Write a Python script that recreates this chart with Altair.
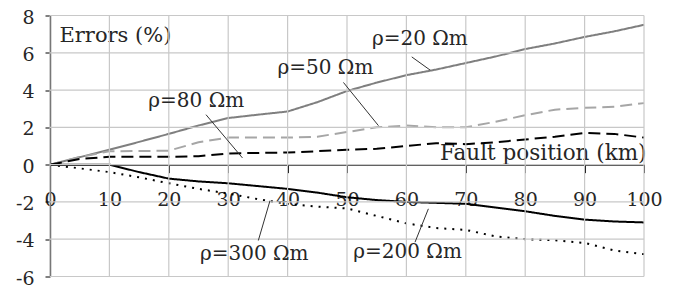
import altair as alt
import pandas as pd

# ---- data ----
positions = [0, 5, 10, 15, 20, 25, 30, 35, 40, 45, 50, 55, 60, 65, 70, 75, 80, 85, 90, 95, 100]
rho20 = [0, 0.4, 0.8, 1.22, 1.65, 2.1, 2.5, 2.68, 2.85, 3.35, 3.95, 4.4, 4.8, 5.1, 5.45, 5.8, 6.2, 6.5, 6.85, 7.15, 7.5]
rho50 = [0, 0.4, 0.72, 0.73, 0.75, 1.2, 1.45, 1.45, 1.45, 1.5, 1.75, 2.0, 2.1, 2.0, 2.0, 2.3, 2.65, 2.95, 3.05, 3.1, 3.3]
rho80 = [0, 0.3, 0.42, 0.42, 0.42, 0.45, 0.6, 0.63, 0.65, 0.72, 0.8, 0.85, 1.0, 1.15, 1.1, 1.2, 1.35, 1.5, 1.7, 1.65, 1.45]
rho200 = [0, 0, 0, -0.4, -0.75, -0.9, -1.0, -1.15, -1.3, -1.5, -1.75, -1.9, -2.0, -2.05, -2.1, -2.3, -2.5, -2.75, -2.95, -3.05, -3.1]
rho300 = [0, -0.2, -0.4, -0.68, -1.0, -1.3, -1.55, -1.85, -2.1, -2.25, -2.35, -2.75, -3.15, -3.4, -3.5, -3.85, -4.0, -4.05, -4.2, -4.6, -4.8]

series_names = ["ρ=20 Ωm", "ρ=50 Ωm", "ρ=80 Ωm", "ρ=200 Ωm", "ρ=300 Ωm"]
series_values = [rho20, rho50, rho80, rho200, rho300]
series_colors = ["#7f7f7f", "#a6a6a6", "#000000", "#000000", "#000000"]
series_dashes = [[1, 0], [12, 6], [12, 6], [1, 0], [2, 6]]

x_ticks = [0, 10, 20, 30, 40, 50, 60, 70, 80, 90, 100]
y_ticks = [-6, -4, -2, 0, 2, 4, 6, 8]
x_min, x_max = 0, 100
y_min, y_max = -6, 8

# annotation labels (data coordinates) and leader lines
label_x = [54.2, 38.3, 16.55, 51.06, 25.25]
label_y = [6.42, 4.87, 3.10, -4.99, -5.14]
lead_x1 = [60.9, 49.4, 26.26, 61.45, 35.07]
lead_y1 = [5.78, 4.41, 2.68, -4.16, -4.07]
lead_x2 = [64.0, 55.3, 32.4, 63.7, 37.04]
lead_y2 = [5.07, 2.09, 0.36, -2.37, -1.93]

FONT = "DejaVu Serif"
TEXT_COLOR = "#262626"
GRID_COLOR = "#c8c8c8"

W, H = 594, 261

rows = []
for name, vals in zip(series_names, series_values):
    for p, v in zip(positions, vals):
        rows.append({"pos": p, "err": v, "series": name})
df = pd.DataFrame(rows)

ann = pd.DataFrame({
    "label": series_names, "lx": label_x, "ly": label_y,
    "x1": lead_x1, "y1": lead_y1, "x2": lead_x2, "y2": lead_y2,
})

vg = pd.DataFrame({"vx": x_ticks, "vlo": [y_min] * len(x_ticks), "vhi": [y_max] * len(x_ticks)})
hg = pd.DataFrame({"hy": y_ticks, "hlo": [x_min] * len(y_ticks), "hhi": [x_max] * len(y_ticks)})

xscale = alt.Scale(domain=[x_min, x_max], nice=False, zero=False)
yscale = alt.Scale(domain=[y_min, y_max], nice=False, zero=False)

x_axis = alt.Axis(
    values=x_ticks, tickCount=50, grid=False,
    labelOverlap=False, labelFlush=False,
    labelExpr="'' + datum.value",
    domainColor="black", domainWidth=1.3, tickColor="black", tickSize=8, tickWidth=1,
    labelFont=FONT, labelFontSize=19, labelColor=TEXT_COLOR, labelPadding=18,
    offset=-(H * (0 - y_min) / (y_max - y_min)),
    title="Fault position (km)", titleFont=FONT, titleFontSize=21.5,
    titleFontWeight="normal", titleColor=TEXT_COLOR, titleAlign="right",
    titleAnchor="end", titleX=W + 2, titleY=-5, titleBaseline="alphabetic",
)
y_axis = alt.Axis(
    values=y_ticks, tickCount=50, grid=False,
    labelOverlap=False, labelFlush=False,
    labelExpr="'' + datum.value", labelOffset=1.5,
    domainColor="black", domainWidth=1.3, tickColor="black", tickSize=5, tickWidth=1,
    labelFont=FONT, labelFontSize=19, labelColor=TEXT_COLOR, labelPadding=11,
    title="Errors (%)", titleFont=FONT, titleFontSize=21, titleFontWeight="normal",
    titleColor=TEXT_COLOR, titleAngle=0, titleAlign="left", titleBaseline="alphabetic",
    titleX=9, titleY=25.5,
)

lines = alt.Chart(df).mark_line(strokeWidth=2).encode(
    x=alt.X("pos:Q", scale=xscale, axis=x_axis),
    y=alt.Y("err:Q", scale=yscale, axis=y_axis),
    color=alt.Color("series:N", scale=alt.Scale(domain=series_names, range=series_colors), legend=None),
    strokeDash=alt.StrokeDash("series:N", scale=alt.Scale(domain=series_names, range=series_dashes), legend=None),
    detail="series:N",
)

# grid drawn as leader-style rules (same construction as the leader lines)
vgrid = alt.Chart(vg).mark_rule(color=GRID_COLOR, strokeWidth=1.2).encode(
    x=alt.X("vx:Q", scale=xscale), y=alt.Y("vlo:Q", scale=yscale),
    x2="vx:Q", y2="vhi:Q",
)
hgrid = alt.Chart(hg).mark_rule(color=GRID_COLOR, strokeWidth=1.2).encode(
    x=alt.X("hlo:Q", scale=xscale), y=alt.Y("hy:Q", scale=yscale),
    x2="hhi:Q", y2="hy:Q",
)

leaders = alt.Chart(ann).mark_rule(color="#333333", strokeWidth=1).encode(
    x=alt.X("x1:Q", scale=xscale), y=alt.Y("y1:Q", scale=yscale),
    x2="x2:Q", y2="y2:Q",
)

labels = alt.Chart(ann).mark_text(
    font=FONT, fontSize=20, align="left", baseline="alphabetic", color=TEXT_COLOR
).encode(
    x=alt.X("lx:Q", scale=xscale), y=alt.Y("ly:Q", scale=yscale), text="label:N",
)

chart = alt.layer(lines, vgrid, hgrid, leaders, labels).properties(
    width=W, height=H, autosize="none",
    padding={"left": 42, "top": 7.5, "right": 23, "bottom": 15},
).configure_view(strokeWidth=0)

chart.save("out.html", embed_options={"renderer": "svg", "actions": False})
